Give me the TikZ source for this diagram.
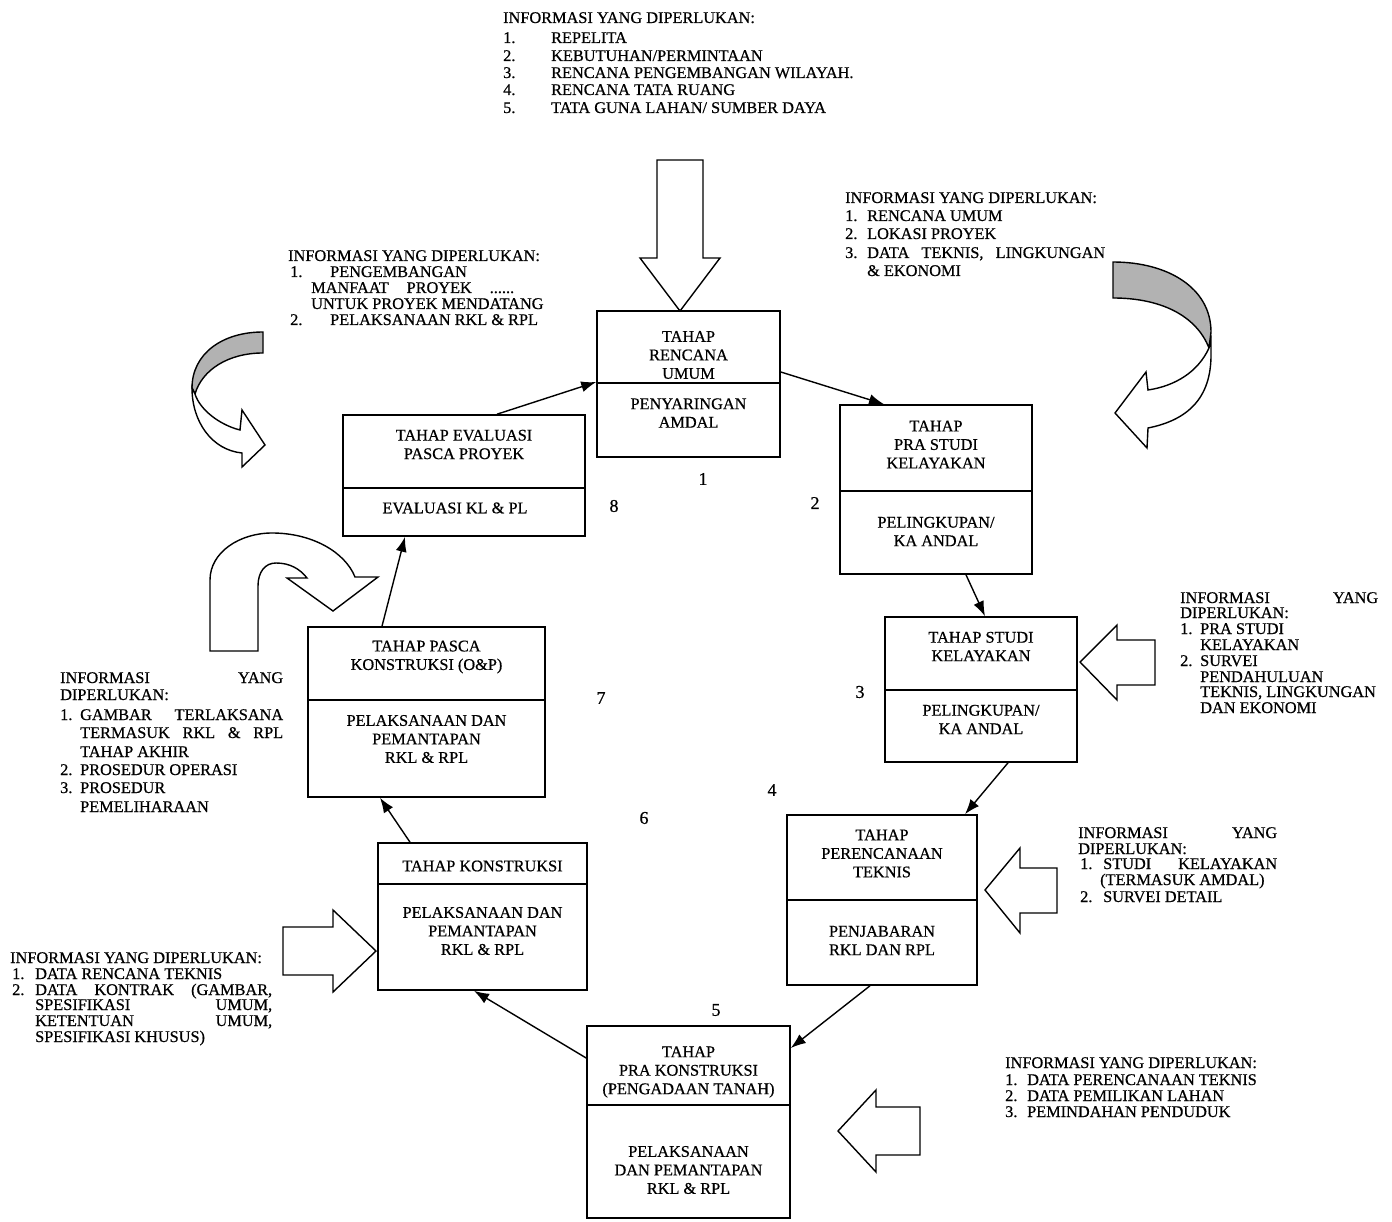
\documentclass[tikz,border=0pt]{standalone}
\usepackage{fontspec}
\setmainfont{Liberation Serif}[FakeBold=0.6]
\usetikzlibrary{arrows.meta}
\tikzset{
 txt/.style={anchor=base west, inner sep=0, font=\fontsize{16.3}{16}\selectfont},
 btxt/.style={align=center, inner sep=0, font=\fontsize{16.3}{18.5}\selectfont},
 numtxt/.style={inner sep=0, font=\fontsize{18}{18}\selectfont},
 stage/.style={draw, line width=1.6pt, inner sep=0},
 divider/.style={line width=1.4pt},
 conn/.style={line width=1.4pt, -{Latex[length=15pt,width=11pt]}},
 blockarrow/.style={draw, line width=1.4pt, fill=white, line join=miter},
 backside/.style={draw, line width=1.4pt, fill=gray!60},
}
\newcommand\nb[3]{\hbox to #1{#2\hfil}#3}
\newcommand\tl[4]{\node[txt] (#1) at (#2,#3) {#4};}
\begin{document}
\begin{tikzpicture}[x=1pt,y=-1pt]
\useasboundingbox (0,0) rectangle (1392,1222);
\fill[white] (0,0) rectangle (1392,1222);

% ---------- stage boxes ----------
\node[stage, minimum width=183pt, minimum height=146pt] (b1) at (688.5,384) {};
\node[stage, minimum width=192pt, minimum height=169pt] (b2) at (936,489.5) {};
\node[stage, minimum width=192pt, minimum height=145pt] (b3) at (981,689.5) {};
\node[stage, minimum width=190pt, minimum height=170pt] (b4) at (882,900) {};
\node[stage, minimum width=203pt, minimum height=192pt] (b5) at (688.5,1122) {};
\node[stage, minimum width=209pt, minimum height=147pt] (b6) at (482.5,916.5) {};
\node[stage, minimum width=237pt, minimum height=170pt] (b7) at (426.5,712) {};
\node[stage, minimum width=242pt, minimum height=121pt] (b8) at (464,475.5) {};

\draw[divider] (b1.west |- 0,383) -- (b1.east |- 0,383);
\draw[divider] (b2.west |- 0,491) -- (b2.east |- 0,491);
\draw[divider] (b3.west |- 0,690) -- (b3.east |- 0,690);
\draw[divider] (b4.west |- 0,900) -- (b4.east |- 0,900);
\draw[divider] (b5.west |- 0,1105) -- (b5.east |- 0,1105);
\draw[divider] (b6.west |- 0,884) -- (b6.east |- 0,884);
\draw[divider] (b7.west |- 0,700) -- (b7.east |- 0,700);
\draw[divider] (b8.west |- 0,488) -- (b8.east |- 0,488);

% ---------- box texts ----------
\node[btxt] (b1a) at (688.5,355) {TAHAP\\RENCANA\\UMUM};
\node[btxt] (b1b) at (688.5,413) {PENYARINGAN\\AMDAL};
\node[btxt] (b2a) at (936,444.5) {TAHAP\\PRA STUDI\\KELAYAKAN};
\node[btxt] (b2b) at (936,531.5) {PELINGKUPAN/\\KA ANDAL};
\node[btxt] (b3a) at (981,646.5) {TAHAP STUDI\\KELAYAKAN};
\node[btxt] (b3b) at (981,719.5) {PELINGKUPAN/\\KA ANDAL};
\node[btxt] (b4a) at (882,853.5) {TAHAP\\PERENCANAAN\\TEKNIS};
\node[btxt] (b4b) at (882,940.5) {PENJABARAN\\RKL DAN RPL};
\node[btxt] (b5a) at (688.5,1072) {TAHAP\\PRA KONSTRUKSI\\(PENGADAAN TANAH)};
\node[btxt] (b5b) at (688.5,1170) {PELAKSANAAN\\DAN PEMANTAPAN\\RKL \& RPL};
\node[btxt] (b6a) at (482.5,866) {TAHAP KONSTRUKSI};
\node[btxt] (b6b) at (482.5,931) {PELAKSANAAN DAN\\PEMANTAPAN\\RKL \& RPL};
\node[btxt] (b7a) at (426.5,657) {TAHAP PASCA\\KONSTRUKSI (O\&P)};
\node[btxt] (b7b) at (426.5,739) {PELAKSANAAN DAN\\PEMANTAPAN\\RKL \& RPL};
\node[btxt] (b8a) at (464,444.5) {TAHAP EVALUASI\\PASCA PROYEK};
\node[btxt] (b8b) at (455,508) {EVALUASI KL \& PL};

% ---------- stage numbers ----------
\node[numtxt] (n1) at (703,479) {1};
\node[numtxt] (n2) at (815,503) {2};
\node[numtxt] (n3) at (860,692) {3};
\node[numtxt] (n4) at (772,790) {4};
\node[numtxt] (n5) at (716,1010) {5};
\node[numtxt] (n6) at (644,818) {6};
\node[numtxt] (n7) at (601,698) {7};
\node[numtxt] (n8) at (614,506) {8};

% ---------- connectors ----------
\draw[conn] ([yshift=12pt]b1.east) -- ([xshift=-52pt]b2.north);
\draw[conn] ([xshift=30pt]b2.south) -- ([xshift=4pt]b3.north);
\draw[conn] ([xshift=27pt]b3.south) -- ([xshift=83pt]b4.north);
\draw[conn] ([xshift=-12pt]b4.south) -- ([yshift=74pt]b5.east);
\draw[conn] ([yshift=64pt]b5.west) -- ([xshift=-8.5pt]b6.south);
\draw[conn] ([xshift=-72.5pt]b6.north) -- ([xshift=-46.5pt]b7.south);
\draw[conn] ([xshift=-44.5pt]b7.north) -- ([xshift=-59pt]b8.south);
\draw[conn] ([xshift=33pt]b8.north) -- ([yshift=2pt]b1.west);

% ---------- block arrows ----------
% top, pointing down into box 1
\draw[blockarrow] (657,160) -- (703,160) -- (703,258) -- (720,258) -- (680,311) -- (640,258) -- (657,258) -- cycle;
% right of box 3
\draw[blockarrow] (1155,640) -- (1117,640) -- (1117,625) -- (1080,662) -- (1117,700) -- (1117,685) -- (1155,685) -- cycle;
% right of box 4
\draw[blockarrow] (1057,868) -- (1020,868) -- (1020,848) -- (985,890) -- (1020,933) -- (1020,913) -- (1057,913) -- cycle;
% right of box 5
\draw[blockarrow] (920,1107) -- (876,1107) -- (876,1090) -- (838,1131) -- (876,1172) -- (876,1155) -- (920,1155) -- cycle;
% left of box 6
\draw[blockarrow] (283,927) -- (333,927) -- (333,910) -- (376,951) -- (333,992) -- (333,975) -- (283,975) -- cycle;

% curved arrow, top right
\draw[backside] (1113,262) .. controls (1168,262) and (1211,288) .. (1211,332) -- (1209,348)
   .. controls (1196,315) and (1160,298) .. (1113,298) -- cycle;
\draw[blockarrow] (1209,348) .. controls (1198,372) and (1175,386) .. (1148,390) -- (1146,372) -- (1115,413)
   -- (1147,448) -- (1148,428) .. controls (1188,420) and (1211,398) .. (1211,355) -- (1211,340) -- cycle;

% curved arrow, top left
\draw[backside] (263,332) .. controls (222,332) and (192,354) .. (192,388) -- (195,394)
   .. controls (202,370) and (228,353) .. (263,353) -- cycle;
\draw[blockarrow] (195,394) .. controls (200,410) and (220,425) .. (240,430) -- (242,410) -- (265,445)
   -- (242,467) -- (242,453) .. controls (212,450) and (192,422) .. (192,388) -- cycle;

% U-turn arrow, lower left
\draw[blockarrow] (210,651) -- (210,580) .. controls (210,552) and (240,533) .. (272,533)
   .. controls (312,533) and (345,552) .. (355,577) -- (378,577) -- (333,611) -- (287,578) -- (307,578)
   .. controls (300,569) and (290,563) .. (276,563) .. controls (265,563) and (258,572) .. (258,586)
   -- (258,651) -- cycle;

% ---------- information texts ----------
% top
\tl{t0}{503}{23}{INFORMASI YANG DIPERLUKAN:}
\tl{t1}{503}{43}{\nb{48pt}{1.}{REPELITA}}
\tl{t2}{503}{61}{\nb{48pt}{2.}{KEBUTUHAN/PERMINTAAN}}
\tl{t3}{503}{78}{\nb{48pt}{3.}{RENCANA PENGEMBANGAN WILAYAH.}}
\tl{t4}{503}{95}{\nb{48pt}{4.}{RENCANA TATA RUANG}}
\tl{t5}{503}{113}{\nb{48pt}{5.}{TATA GUNA LAHAN/ SUMBER DAYA}}

% right of box 1
\tl{r0}{845}{203}{INFORMASI YANG DIPERLUKAN:}
\tl{r1}{845}{221}{\nb{22pt}{1.}{RENCANA UMUM}}
\tl{r2}{845}{239}{\nb{22pt}{2.}{LOKASI PROYEK}}
\tl{r3}{845}{258}{\hbox to 260pt{\hbox to 22pt{3.\hfil}DATA\hfill TEKNIS,\hfill LINGKUNGAN}}
\tl{r4}{867}{276}{\& EKONOMI}

% above box 8
\tl{l0}{288}{261}{INFORMASI YANG DIPERLUKAN:}
\tl{l1}{290}{277}{\nb{40pt}{1.}{PENGEMBANGAN}}
\tl{l2}{311}{293}{\hbox to 203pt{MANFAAT\hfill PROYEK\hfill ......}}
\tl{l3}{311}{309}{UNTUK PROYEK MENDATANG}
\tl{l4}{290}{325}{\nb{40pt}{2.}{PELAKSANAAN RKL \& RPL}}

% right of box 3
\tl{s0}{1180}{603}{\hbox to 198pt{INFORMASI\hfill YANG}}
\tl{s1}{1180}{618}{DIPERLUKAN:}
\tl{s2}{1180}{634}{\nb{20pt}{1.}{PRA STUDI}}
\tl{s3}{1200}{650}{KELAYAKAN}
\tl{s4}{1180}{666}{\nb{20pt}{2.}{SURVEI}}
\tl{s5}{1200}{682}{PENDAHULUAN}
\tl{s6}{1200}{697}{TEKNIS, LINGKUNGAN}
\tl{s7}{1200}{713}{DAN EKONOMI}

% left of box 7
\tl{p0}{60}{683}{\hbox to 223pt{INFORMASI\hfill YANG}}
\tl{p1}{60}{700}{DIPERLUKAN:}
\tl{p2}{60}{720}{\hbox to 223pt{\hbox to 20pt{1.\hfil}GAMBAR\hfill TERLAKSANA}}
\tl{p3}{80}{738}{\hbox to 203pt{TERMASUK\hfill RKL\hfill \&\hfill RPL}}
\tl{p4}{80}{757}{TAHAP AKHIR}
\tl{p5}{60}{775}{\nb{20pt}{2.}{PROSEDUR OPERASI}}
\tl{p6}{60}{793}{\nb{20pt}{3.}{PROSEDUR}}
\tl{p7}{80}{812}{PEMELIHARAAN}

% right of box 4
\tl{q0}{1078}{838}{\hbox to 199pt{INFORMASI\hfill YANG}}
\tl{q1}{1078}{854}{DIPERLUKAN:}
\tl{q2}{1080}{869}{\hbox to 197pt{\hbox to 23pt{1.\hfil}STUDI\hfill KELAYAKAN}}
\tl{q3}{1100}{885}{(TERMASUK AMDAL)}
\tl{q4}{1080}{902}{\nb{23pt}{2.}{SURVEI DETAIL}}

% left of box 6
\tl{k0}{10}{963}{INFORMASI YANG DIPERLUKAN:}
\tl{k1}{12}{979}{\nb{23pt}{1.}{DATA RENCANA TEKNIS}}
\tl{k2}{12}{995}{\hbox to 260pt{\hbox to 23pt{2.\hfil}DATA\hfill KONTRAK\hfill (GAMBAR,}}
\tl{k3}{35}{1010}{\hbox to 237pt{SPESIFIKASI\hfill UMUM,}}
\tl{k4}{35}{1026}{\hbox to 237pt{KETENTUAN\hfill UMUM,}}
\tl{k5}{35}{1042}{SPESIFIKASI KHUSUS)}

% right of box 5
\tl{m0}{1005}{1068}{INFORMASI YANG DIPERLUKAN:}
\tl{m1}{1005}{1085}{\nb{22pt}{1.}{DATA PERENCANAAN TEKNIS}}
\tl{m2}{1005}{1101}{\nb{22pt}{2.}{DATA PEMILIKAN LAHAN}}
\tl{m3}{1005}{1117}{\nb{22pt}{3.}{PEMINDAHAN PENDUDUK}}
\end{tikzpicture}
\end{document}
